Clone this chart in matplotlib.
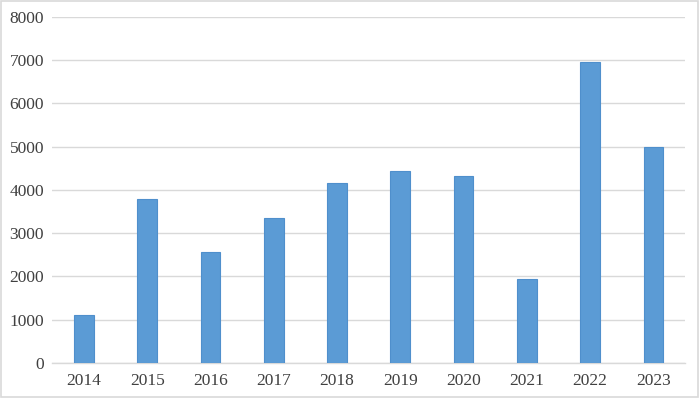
import matplotlib.pyplot as plt
from matplotlib.patches import Rectangle

# Data
years = ['2014', '2015', '2016', '2017', '2018', '2019', '2020', '2021', '2022', '2023']
values = [1100, 3780, 2560, 3340, 4160, 4430, 4330, 1940, 6960, 5000]
y_ticks = [0, 1000, 2000, 3000, 4000, 5000, 6000, 7000, 8000]

plt.rcParams['font.family'] = ['Liberation Serif', 'DejaVu Serif']

fig = plt.figure(figsize=(7.0, 3.98), dpi=100)
ax = fig.add_axes([0.0747, 0.0879, 0.9039, 0.870])

x = range(len(years))
ax.bar(x, values, width=0.31, color='#5b9bd5', edgecolor='#4f8fcc', linewidth=0.8, zorder=3)

ax.set_xlim(-0.5, len(years) - 0.5)
ax.set_ylim(0, 8000)
ax.set_yticks(y_ticks)
ax.set_xticks(list(x))
ax.set_xticklabels(years)

ax.grid(axis='y', color='#d9d9d9', linewidth=1.0, zorder=0)
for side in ['top', 'right', 'left']:
    ax.spines[side].set_visible(False)
ax.spines['bottom'].set_color('#d9d9d9')
ax.spines['bottom'].set_linewidth(1.0)

ax.tick_params(axis='both', length=0, labelsize=12.5, colors='#404040')
ax.tick_params(axis='y', pad=6)
ax.tick_params(axis='x', pad=7)

# thin light border around the whole chart
fig.patches.append(Rectangle((0.002, 0.003), 0.995, 0.994, transform=fig.transFigure,
                             fill=False, edgecolor='#d9d9d9', linewidth=1.2))

fig.savefig('out.png', dpi=100)
